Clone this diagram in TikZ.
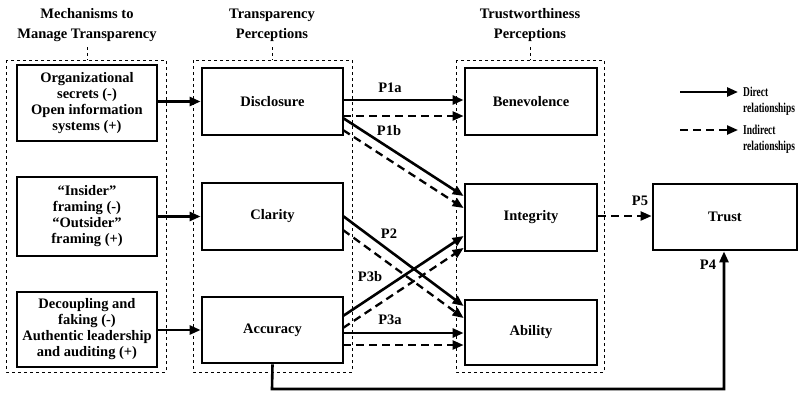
\documentclass[tikz,border=0pt]{standalone}
\usepackage{fontspec}
\setmainfont{Liberation Serif}
\usetikzlibrary{arrows.meta}
\begin{document}
\begin{tikzpicture}[x=1pt,y=-1pt,
 box/.style={draw,line width=2.8pt,fill=white,font=\fontsize{14.5}{16}\selectfont\bfseries,align=center,inner sep=0pt},
 grp/.style={draw,dashed,line width=0.9pt},
 ttl/.style={font=\fontsize{14.5}{20}\selectfont\bfseries,align=center},
 lab/.style={font=\fontsize{14.5}{16}\selectfont\bfseries},
 leg/.style={font=\fontsize{13.5}{16}\selectfont\bfseries,align=left,anchor=west,inner sep=0pt},
 sa/.style={line width=2.6pt,-{Triangle[length=11pt,width=9pt]}},
 da/.style={line width=2.3pt,dash pattern=on 8pt off 5pt,-{Triangle[length=11pt,width=9pt]}}]
\useasboundingbox (0,0) rectangle (800,400);
% groups
\draw[grp] (6,60) rectangle (166,372);
\draw[grp] (193,60) rectangle (352,372);
\draw[grp] (456,60) rectangle (604,372);
\draw[grp] (87,47) -- (87,60);
\draw[grp] (272,47) -- (272,60);
\draw[grp] (530,47) -- (530,60);
\node[ttl] (t1) at (87,25) {Mechanisms to\\Manage Transparency};
\node[ttl] (t2) at (272,25) {Transparency\\Perceptions};
\node[ttl] (t3) at (530,25) {Trustworthiness\\Perceptions};
% left boxes
\node[box,minimum width=140pt,minimum height=76pt] (m1) at (87,103) {Organizational\\secrets (-)\\Open information\\systems (+)};
\node[box,minimum width=140pt,minimum height=79pt] (m2) at (87,216.5) {``Insider''\\framing (-)\\``Outsider''\\framing (+)};
\node[box,minimum width=140pt,minimum height=75pt] (m3) at (87,329.5) {Decoupling and\\faking (-)\\Authentic leadership\\and auditing (+)};
% middle
\node[box,minimum width=141pt,minimum height=67pt] (d) at (272.5,101.5) {Disclosure};
\node[box,minimum width=141pt,minimum height=67pt] (c) at (272.5,216.5) {Clarity};
\node[box,minimum width=141pt,minimum height=66pt] (a) at (272.5,330) {Accuracy};
% right
\node[box,minimum width=132pt,minimum height=67pt] (b) at (531,101.5) {Benevolence};
\node[box,minimum width=132pt,minimum height=67pt] (i) at (531,217.5) {Integrity};
\node[box,minimum width=132pt,minimum height=65pt] (ab) at (531,332.5) {Ability};
\node[box,minimum width=144pt,minimum height=66pt] (tr) at (725,217) {Trust};
% mechanism arrows
\draw[sa] (m1.east|-d) -- (d.west);
\draw[sa] (m2.east|-c) -- (c.west);
\draw[sa] (m3.east|-a) -- (a.west);
% propositions
\draw[sa] (343,100) -- (b.west|-0,100);
\draw[da] (343,116) -- (b.west|-0,116);
\draw[sa] (343,118) -- (i.west|-0,196);
\draw[da] (343,130) -- (i.west|-0,208);
\draw[sa] (343,216) -- (ab.west|-0,306);
\draw[da] (343,230) -- (ab.west|-0,318);
\draw[sa] (343,316) -- (i.west|-0,236);
\draw[da] (343,328) -- (i.west|-0,248);
\draw[sa] (343,333) -- (ab.west|-0,333);
\draw[da] (343,345) -- (ab.west|-0,345);
\draw[da] (i.east|-0,216) -- (tr.west|-0,216);
\coordinate (c1) at (272,389);
\coordinate (c2) at (724,389);
\draw[sa] (a.south) -- (c1) -- (c2) -- (tr.south-|c2);
\node[lab] (p1a) at (390,88) {P1a};
\node[lab] (p1b) at (389,131) {P1b};
\node[lab] (p2) at (389,234) {P2};
\node[lab] (p3b) at (370,277) {P3b};
\node[lab] (p3a) at (390,320) {P3a};
\node[lab] (p5) at (640,201) {P5};
\node[lab] (p4) at (708,265) {P4};
% legend
\coordinate (l1) at (680,92); \coordinate (l2) at (738,92);
\coordinate (l3) at (680,130); \coordinate (l4) at (738,130);
\draw[sa] (l1) -- (l2);
\draw[da] (l3) -- (l4);
\node[leg] (lg1) at (743,101) {\scalebox{0.7}[1]{Direct}\\\scalebox{0.7}[1]{relationships}};
\node[leg] (lg2) at (743,139) {\scalebox{0.7}[1]{Indirect}\\\scalebox{0.7}[1]{relationships}};
\end{tikzpicture}
\end{document}
